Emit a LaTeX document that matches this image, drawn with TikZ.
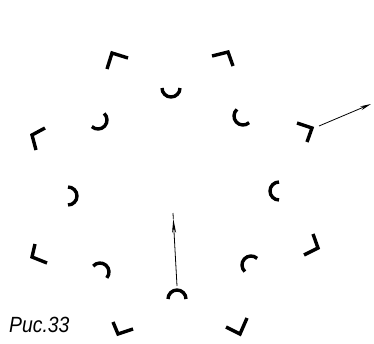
\documentclass[tikz,border=0pt]{standalone}
\usepackage{fontspec}
\setmainfont{Liberation Sans}
\usetikzlibrary{arrows.meta}
\begin{document}
\begin{tikzpicture}[x=1pt,y=-1pt,
  cornerline/.style={line width=3.4pt, line join=miter, miter limit=10},
  arcline/.style={line width=3.4pt},
  thinline/.style={line width=0.8pt},
  captionstyle/.style={anchor=base west, inner sep=0pt, font=\itshape\fontsize{22}{22}\selectfont, xscale=0.88}
]
\useasboundingbox (0,0) rectangle (374,343);
% corners
\coordinate (c1a) at (128,58);  \coordinate (c1v) at (112,53);  \coordinate (c1b) at (107,69);
\coordinate (c2a) at (212,56);  \coordinate (c2v) at (228,52);  \coordinate (c2b) at (233,66);
\coordinate (c3a) at (45,128);  \coordinate (c3v) at (32,135);  \coordinate (c3b) at (36,150);
\coordinate (c4a) at (297,123); \coordinate (c4v) at (312,128); \coordinate (c4b) at (307,142);
\coordinate (c5a) at (35,244);  \coordinate (c5v) at (32,257);  \coordinate (c5b) at (47,263);
\coordinate (c6a) at (113,322); \coordinate (c6v) at (118,334); \coordinate (c6b) at (133,329);
\coordinate (c7a) at (226,327); \coordinate (c7v) at (240,334); \coordinate (c7b) at (247,318);
\coordinate (c8a) at (313,234); \coordinate (c8v) at (318,248); \coordinate (c8b) at (304,255);
\foreach \c in {c1,c2,c3,c4,c5,c6,c7,c8}
  \draw[cornerline] (\c a) -- (\c v) -- (\c b);
% arcs
\coordinate (a1) at (171,88);
\coordinate (a2) at (98,120);
\coordinate (a3) at (243,116);
\coordinate (a4) at (68,196);
\coordinate (a5) at (279,191);
\coordinate (a6) at (100,272);
\coordinate (a7) at (251,265);
\coordinate (a8) at (177,299);
\foreach \a/\s in {a1/0, a2/-47, a3/47.5, a4/-90, a5/90, a6/-139, a7/-227, a8/-180}
  \draw[arcline] (\a) ++(\s:9) arc[start angle=\s, delta angle=180, radius=9];
% arrows
\coordinate (r1) at (319,126); \coordinate (r2) at (371,104);
\draw[thinline,-{Stealth[length=11pt,width=4pt]}] (r1) -- (r2);
\coordinate (v1) at (177,286); \coordinate (vt) at (173.3,219); \coordinate (v2) at (173,213);
\draw[thinline,-{Stealth[length=14pt,width=4pt]}] (v1) -- (vt);
\draw[thinline] (vt) -- (v2);
% caption
\node[captionstyle] (cap) at (9,332) {Рис.33};
\end{tikzpicture}
\end{document}
